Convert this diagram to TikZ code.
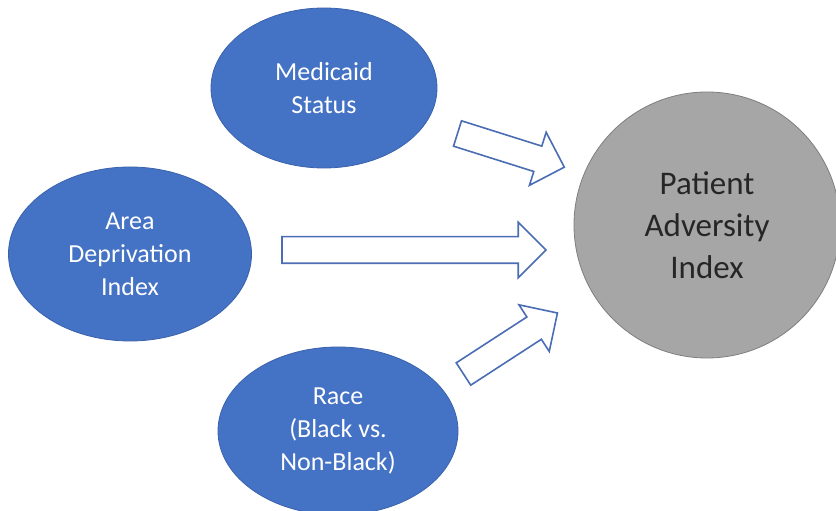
\documentclass[tikz,border=0pt]{standalone}
\usepackage{fontspec}
\setmainfont{Carlito}
\usetikzlibrary{shapes.geometric,shapes.arrows}
\definecolor{ovalblue}{HTML}{4472C4}
\definecolor{ovaledge}{HTML}{3A62AC}
\definecolor{arrowblue}{HTML}{4A6DB4}
\definecolor{circgray}{HTML}{A6A6A6}
\definecolor{circedge}{HTML}{7F7F7F}
\tikzset{
  blueoval/.style={ellipse, fill=ovalblue, draw=ovaledge, line width=0.8pt, inner sep=0pt,
    text=white, align=center, font=\fontsize{26}{33}\selectfont},
  grayoval/.style={ellipse, fill=circgray, draw=circedge, line width=0.8pt, inner sep=0pt,
    text=black!85, align=center, font=\fontsize{33}{42}\selectfont},
  blockarrow/.style={single arrow, draw=arrowblue, fill=white, line width=1.6pt,
    single arrow head extend=14.5pt, single arrow tip angle=90,
    inner xsep=0pt, inner ysep=12.5pt, minimum width=0pt, outer sep=0pt, anchor=tail}
}
\begin{document}
\begin{tikzpicture}[x=1pt,y=1pt]
\useasboundingbox (0,0) rectangle (836,511);
\fill[white] (0,0) rectangle (836,511);
\begin{scope}
\clip (0,0) rectangle (836,511);
\node[blueoval, minimum width=226pt, minimum height=160pt] (med) at (324,423) {Medicaid\\Status};
\node[blueoval, minimum width=243pt, minimum height=174pt] (adi) at (130,257) {Area\\Deprivation\\Index};
\node[blueoval, minimum width=240pt, minimum height=168pt] (race) at (338,80) {Race\\(Black vs.\\Non-Black)};
\node[grayoval, minimum width=266pt, minimum height=266pt] (pai) at (707,286) {Patient\\Adversity\\Index};
\end{scope}
\node[blockarrow, minimum height=112pt, rotate=-17.5] (a1) at (457.5,377.5) {};
\node[blockarrow, minimum height=264pt] (a2) at (282,261) {};
\node[blockarrow, minimum height=112pt, rotate=33] (a3) at (463.5,137) {};
\end{tikzpicture}
\end{document}
